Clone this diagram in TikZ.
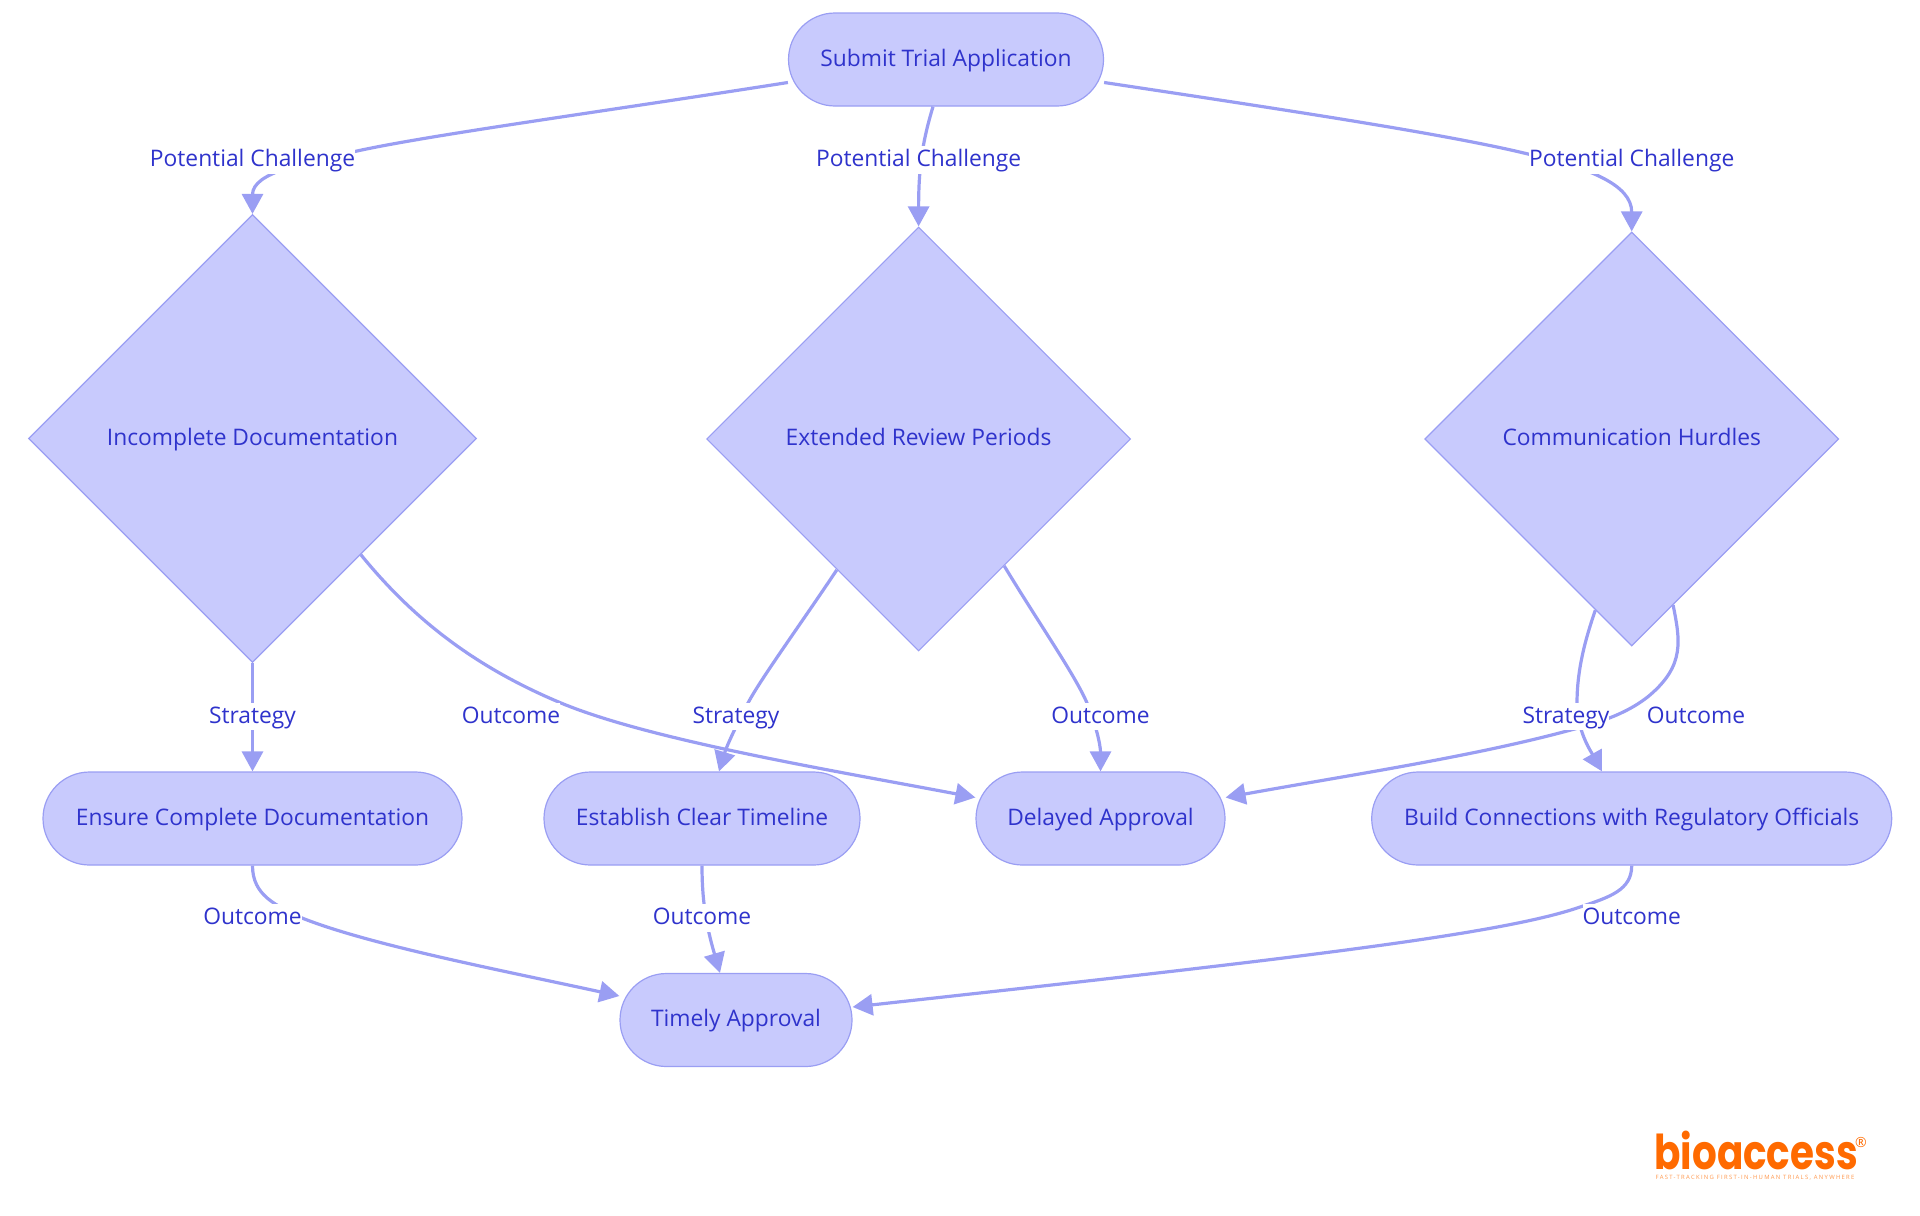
\documentclass[tikz,border=0pt]{standalone}
\usepackage{fontspec}
\setmainfont{Open Sans}
\newfontfamily\logofont[LetterSpace=0]{Poppins}
\newfontfamily\tagfont[LetterSpace=22]{Open Sans}
\usetikzlibrary{arrows.meta,shapes.geometric}
\definecolor{flowFill}{HTML}{C8CAFD}
\definecolor{flowLine}{HTML}{9A9EF3}
\definecolor{flowText}{HTML}{2F33CC}
\definecolor{logoOrange}{HTML}{FF6A00}
\tikzset{
	txt/.style={text=flowText, font=\fontsize{11.4}{13}\selectfont, text height=9.4pt, text depth=2.5pt},
	flowStep/.style={txt, draw=flowLine, line width=0.6pt, fill=flowFill, rectangle, rounded corners=23.25pt, minimum height=46.5pt, inner sep=0pt},
	flowCheck/.style={txt, draw=flowLine, line width=0.6pt, fill=flowFill, diamond, shape aspect=1, inner sep=0pt},
	flowEdge/.style={draw=flowLine, line width=1.6pt, -{Triangle[length=10pt,width=10.5pt]}},
	lbl/.style={txt, fill=white, inner xsep=0pt, inner ysep=1pt},
}
\begin{document}
\begin{tikzpicture}[x=0.5pt, y=-0.5pt]
	\useasboundingbox (0,0) rectangle (1920,1215);

	\node[flowStep, minimum width=157.5pt] (subApp) at (946,59.5) {Submit Trial Application};
	\node[flowCheck, minimum width=224pt, minimum height=224pt] (incDoc) at (252.5,438.5) {Incomplete Documentation};
	\node[flowCheck, minimum width=212pt, minimum height=212pt] (extRev) at (918.6,439) {Extended Review Periods};
	\node[flowCheck, minimum width=207pt, minimum height=207pt] (comHur) at (1631.7,439) {Communication Hurdles};
	\node[flowStep, minimum width=209.5pt] (ensDoc) at (252.5,818.5) {Ensure Complete Documentation};
	\node[flowStep, minimum width=158pt] (estTime) at (702,818.5) {Establish Clear Timeline};
	\node[flowStep, minimum width=124.5pt] (delApp) at (1100.5,818.5) {Delayed Approval};
	\node[flowStep, minimum width=260pt] (bldCon) at (1631.7,818.5) {Build Connections with Regulatory Officials};
	\node[flowStep, minimum width=116pt] (timApp) at (736,1020) {Timely Approval};

	\draw[flowEdge] ([yshift=-11.5pt]subApp.west) .. controls (600,112) and (430,135) .. (357,151) .. controls (305,163) and (252.5,172) .. (incDoc.north);
	\draw[flowEdge] ([xshift=-6.5pt]subApp.south) .. controls (923,140) and (918.6,165) .. (extRev.north);
	\draw[flowEdge] ([yshift=-11.5pt]subApp.east) .. controls (1300,112) and (1450,135) .. (1528,154) .. controls (1590,168) and (1631.7,185) .. (comHur.north);

	\draw[flowEdge] (incDoc.south) -- (ensDoc.north);
	\draw[flowEdge] (incDoc.-47) .. controls (410,615) and (470,665) .. (561,703) .. controls (650,740) and (830,770) .. ([yshift=10.5pt]delApp.west);
	\draw[flowEdge] (extRev.-122.6) .. controls (800,625) and (760,680) .. (748,703) .. controls (738,722) and (727,745) .. ([xshift=8.5pt]estTime.north);
	\draw[flowEdge] (extRev.-56.8) .. controls (1040,625) and (1075,675) .. (1087,703) .. controls (1096,725) and (1100.5,745) .. (delApp.north);
	\draw[flowEdge] (comHur.-102.9) .. controls (1585,640) and (1577,670) .. (1577,703) .. controls (1577,730) and (1590,750) .. ([xshift=-14.85pt]bldCon.north);
	\draw[flowEdge] (comHur.-76.8) .. controls (1680,640) and (1685,665) .. (1650,695) .. controls (1625,716) and (1590,725) .. (1567,731) .. controls (1470,757) and (1350,775) .. ([yshift=10.5pt]delApp.east);

	\draw[flowEdge] (ensDoc.south) .. controls (252.5,895) and (275,905) .. (302,918) .. controls (370,945) and (500,970) .. ([yshift=12pt]timApp.west);
	\draw[flowEdge] (estTime.south) .. controls (702,900) and (706,925) .. ([xshift=-8pt]timApp.north);
	\draw[flowEdge] (bldCon.south) .. controls (1631.7,890) and (1610,897) .. (1580,907) .. controls (1500,935) and (1280,960) .. ([yshift=6.5pt]timApp.east);

	\node[lbl] (lblChalA) at (252.5,160) {Potential Challenge};
	\node[lbl] (lblChalB) at (918.6,160) {Potential Challenge};
	\node[lbl] (lblChalC) at (1631.7,160) {Potential Challenge};
	\node[lbl] (lblStratA) at (252.5,716.5) {Strategy};
	\node[lbl] (lblOutA) at (511,716.5) {Outcome};
	\node[lbl] (lblStratB) at (736,716.5) {Strategy};
	\node[lbl] (lblOutB) at (1100.5,716.5) {Outcome};
	\node[lbl] (lblStratC) at (1566,716.5) {Strategy};
	\node[lbl] (lblOutC) at (1696,716.5) {Outcome};
	\node[lbl] (lblOutD) at (252.5,918) {Outcome};
	\node[lbl] (lblOutE) at (702,918) {Outcome};
	\node[lbl] (lblOutF) at (1631.7,918) {Outcome};

	\node[text=logoOrange, font=\logofont\fontsize{24}{24}\selectfont\bfseries, inner sep=0pt, anchor=base west] (logoName) at (1654,1169) {\scalebox{0.81}[1]{bioaccess}};
	\node[text=logoOrange, font=\fontsize{7}{7}\selectfont, inner sep=0pt] (logoMark) at (1861,1142) {®};
	\node[text=logoOrange!70, font=\tagfont\fontsize{2.95}{4}\selectfont, inner sep=0pt] (logoTag) at (1755,1177.5) {FAST-TRACKING FIRST-IN-HUMAN TRIALS, ANYWHERE};
\end{tikzpicture}
\end{document}
